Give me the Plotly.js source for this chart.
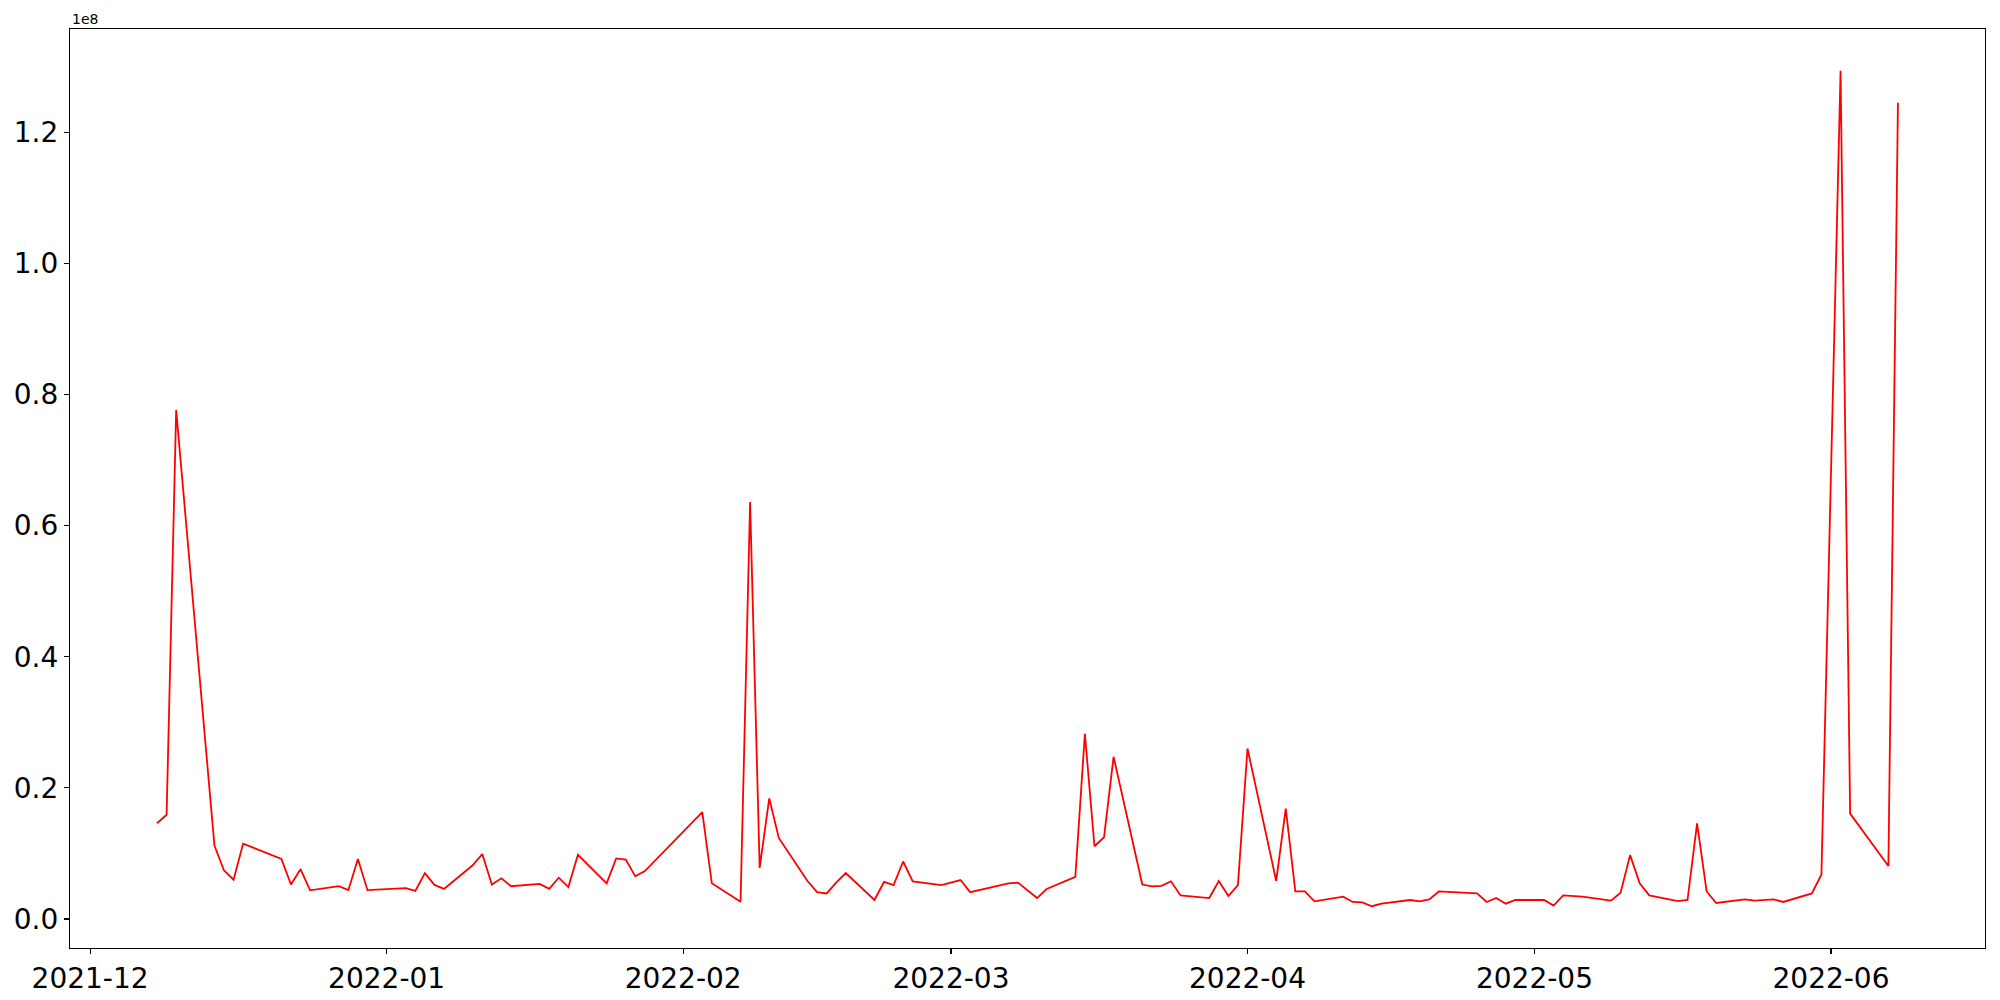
<!DOCTYPE html>
<html>
<head>
<meta charset="utf-8">
<script src="https://cdn.plot.ly/plotly-3.0.1.min.js"></script>
<style>html,body{margin:0;padding:0;background:#fff;}</style>
</head>
<body>
<div id="chart" style="width:2000px;height:1000px;"></div>
<script>
const dates = [
"2021-12-08","2021-12-09","2021-12-10","2021-12-14","2021-12-15","2021-12-16","2021-12-17",
"2021-12-21","2021-12-22","2021-12-23","2021-12-24","2021-12-27","2021-12-28","2021-12-29","2021-12-30",
"2022-01-03","2022-01-04","2022-01-05","2022-01-06","2022-01-07","2022-01-10","2022-01-11","2022-01-12",
"2022-01-13","2022-01-14","2022-01-17","2022-01-18","2022-01-19","2022-01-20","2022-01-21","2022-01-24",
"2022-01-25","2022-01-26","2022-01-27","2022-01-28","2022-02-03","2022-02-04","2022-02-07","2022-02-08",
"2022-02-09","2022-02-10","2022-02-11","2022-02-14","2022-02-15","2022-02-16","2022-02-17","2022-02-18",
"2022-02-21","2022-02-22","2022-02-23","2022-02-24","2022-02-25","2022-02-28","2022-03-02","2022-03-03",
"2022-03-07","2022-03-08","2022-03-10","2022-03-11","2022-03-14","2022-03-15","2022-03-16","2022-03-17",
"2022-03-18","2022-03-21","2022-03-22","2022-03-23","2022-03-24","2022-03-25","2022-03-28","2022-03-29",
"2022-03-30","2022-03-31","2022-04-01","2022-04-04","2022-04-05","2022-04-06","2022-04-07","2022-04-08",
"2022-04-11","2022-04-12","2022-04-13","2022-04-14","2022-04-15","2022-04-18","2022-04-19","2022-04-20",
"2022-04-21","2022-04-25","2022-04-26","2022-04-27","2022-04-28","2022-04-29","2022-05-02","2022-05-03",
"2022-05-04","2022-05-06","2022-05-09","2022-05-10","2022-05-11","2022-05-12","2022-05-13","2022-05-16",
"2022-05-17","2022-05-18","2022-05-19","2022-05-20","2022-05-23","2022-05-24","2022-05-26","2022-05-27",
"2022-05-30","2022-05-31","2022-06-02","2022-06-03","2022-06-07","2022-06-08"
];
const values = [
1.46e7,1.59e7,7.76e7,1.12e7,7.4e6,6.0e6,1.15e7,
9.16e6,5.26e6,7.6e6,4.38e6,5.0e6,4.4e6,9.16e6,4.4e6,
4.7e6,4.3e6,7.0e6,5.2e6,4.6e6,8.2e6,9.9e6,5.26e6,
6.2e6,5.0e6,5.36e6,4.6e6,6.3e6,4.87e6,9.8e6,5.45e6,
9.25e6,9.06e6,6.5e6,7.3e6,1.63e7,5.45e6,2.63e6,6.36e7,
7.8e6,1.84e7,1.237e7,5.8e6,4.1e6,3.9e6,5.55e6,7.0e6,
2.9e6,5.65e6,5.16e6,8.77e6,5.75e6,5.16e6,5.94e6,4.1e6,
5.45e6,5.55e6,3.2e6,4.58e6,6.43e6,2.825e7,1.11e7,1.247e7,
2.474e7,5.26e6,4.97e6,5.06e6,5.75e6,3.6e6,3.2e6,5.8e6,
3.5e6,5.16e6,2.6e7,5.8e6,1.685e7,4.2e6,4.2e6,2.7e6,
3.4e6,2.6e6,2.53e6,1.95e6,2.34e6,2.9e6,2.7e6,3.0e6,
4.2e6,3.9e6,2.6e6,3.2e6,2.34e6,2.9e6,2.9e6,2.05e6,
3.6e6,3.4e6,2.8e6,4.0e6,9.74e6,5.45e6,3.6e6,2.73e6,
2.9e6,1.46e7,4.2e6,2.44e6,3.0e6,2.8e6,3.0e6,2.6e6,
3.9e6,6.8e6,1.2935e8,1.607e7,8.08e6,1.2448e8
];
const xTickVals = ["2021-12-01","2022-01-01","2022-02-01","2022-03-01","2022-04-01","2022-05-01","2022-06-01"];
const xTickText = ["2021-12","2022-01","2022-02","2022-03","2022-04","2022-05","2022-06"];
const yTickVals = [0,2e7,4e7,6e7,8e7,1e8,1.2e8];
const yTickText = ["0.0","0.2","0.4","0.6","0.8","1.0","1.2"];

const font = {family: "DejaVu Sans", size: 28, color: "#000"};
const trace = {
  x: dates, y: values, type: "scatter", mode: "lines",
  line: {color: "#ff0000", width: 1.8}, hoverinfo: "x+y"
};
const layout = {
  width: 2000, height: 1000,
  margin: {l: 70, r: 15, t: 29, b: 52},
  paper_bgcolor: "#fff", plot_bgcolor: "#fff",
  showlegend: false,
  xaxis: {
    type: "date",
    range: ["2021-11-28 21:36", "2022-06-17 02:24"],
    tickvals: xTickVals, ticktext: xTickText,
    ticks: "outside", ticklen: 5, tickwidth: 1.1, tickcolor: "#000",
    showgrid: false, zeroline: false,
    showline: true, mirror: true, linecolor: "#000", linewidth: 1.1,
    tickfont: font
  },
  yaxis: {
    range: [-4.42e6, 1.3572e8],
    tickvals: yTickVals, ticktext: yTickText,
    ticks: "outside", ticklen: 5, tickwidth: 1.1, tickcolor: "#000",
    showgrid: false, zeroline: false,
    showline: true, mirror: true, linecolor: "#000", linewidth: 1.1,
    tickfont: font
  },
  annotations: [{
    text: "1e8", xref: "paper", yref: "paper", x: 0, y: 1,
    xanchor: "left", yanchor: "bottom", showarrow: false,
    font: {family: "DejaVu Sans", size: 14, color: "#000"}, yshift: 0
  }]
};
Plotly.newPlot("chart", [trace], layout, {displayModeBar: false, staticPlot: true});
</script>
</body>
</html>
